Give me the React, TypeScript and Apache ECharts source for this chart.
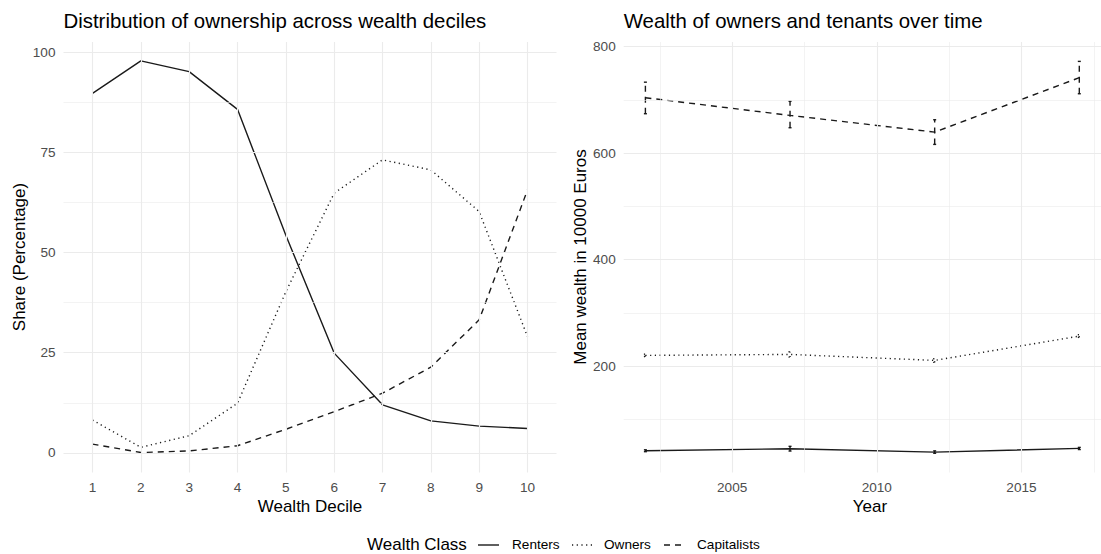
import React, { useEffect, useRef } from "react";
import * as echarts from "echarts";

// ---------- data ----------
const deciles = [1, 2, 3, 4, 5, 6, 7, 8, 9, 10];
const rentersShare = [89.7, 97.8, 95.1, 85.7, 54.3, 24.9, 12.0, 8.0, 6.7, 6.1];
const ownersShare = [8.2, 1.4, 4.3, 12.4, 40.2, 64.8, 73.1, 70.6, 60.2, 29.0];
const capitalistsShare = [2.2, 0.1, 0.5, 1.8, 5.9, 10.3, 14.9, 21.4, 33.2, 65.6];

const years = [2002, 2007, 2012, 2017];
const rentersWealth = [41.3, 45.0, 38.7, 45.6];
const rentersLow = [39.5, 40.7, 36.5, 43.5];
const rentersHigh = [43.0, 49.5, 41.0, 47.5];
const ownersWealth = [220.2, 222.0, 210.8, 256.4];
const ownersLow = [218.0, 217.0, 207.0, 254.0];
const ownersHigh = [222.5, 227.0, 214.0, 259.0];
const capitalistsWealth = [703.8, 670.6, 639.3, 741.4];
const capitalistsLow = [673.8, 647.5, 616.2, 711.3];
const capitalistsHigh = [733.0, 697.0, 662.5, 772.0];

const leftXTicks = deciles;
const leftYTicks = [0, 25, 50, 75, 100];
const leftYMinor = [12.5, 37.5, 62.5, 87.5];
const rightXTicks = [2005, 2010, 2015];
const rightXMinor = [2002.5, 2007.5, 2012.5, 2017.5];
const rightYTicks = [200, 400, 600, 800];
const rightYMinor = [100, 300, 500, 700];

const seriesNames = ["Renters", "Owners", "Capitalists"];

// ---------- styles ----------
const FONT = "'Liberation Sans', Arial, Helvetica, sans-serif";
const GRID_COLOR = "#EBEBEB";
const LINE_COLOR = "#1a1a1a";
const LW = 1.4;
const DOT = [1.2, 3.5];
const DASH = [6, 5];
const dashes: any[] = ["solid", DOT, DASH];

export default function App() {
  const ref = useRef<HTMLDivElement>(null);

  useEffect(() => {
    if (!ref.current) return;
    const chart = echarts.init(ref.current, undefined, { renderer: "svg" });

    const gridTop = 42;
    const gridH = 430.5;

    const gridSeries = (idx: number, xs: number[], ys: number[], xsMinor: number[], ysMinor: number[], anchor: number[]) => ({
      type: "line",
      xAxisIndex: idx,
      yAxisIndex: idx,
      data: [anchor],
      symbol: "none",
      lineStyle: { opacity: 0 },
      silent: true,
      z: 1,
      markLine: {
        silent: true,
        symbol: ["none", "none"],
        label: { show: false },
        animation: false,
        data: [
          ...xsMinor.map((v) => ({ xAxis: v, lineStyle: { color: GRID_COLOR, width: 0.6, type: "solid" } })),
          ...ysMinor.map((v) => ({ yAxis: v, lineStyle: { color: GRID_COLOR, width: 0.6, type: "solid" } })),
          ...xs.map((v) => ({ xAxis: v, lineStyle: { color: GRID_COLOR, width: 1.1, type: "solid" } })),
          ...ys.map((v) => ({ yAxis: v, lineStyle: { color: GRID_COLOR, width: 1.1, type: "solid" } })),
        ],
      },
    });

    const lineSeries = (idx: number, name: string, xs: number[], ys: number[], type: any) => ({
      type: "line",
      name,
      xAxisIndex: idx,
      yAxisIndex: idx,
      data: xs.map((x, i) => [x, ys[i]]),
      symbol: "none",
      z: 3,
      lineStyle: { color: LINE_COLOR, width: LW, type, cap: "butt" },
    });

    const errSeries = (name: string, lo: number[], hi: number[], type: any) => ({
      type: "custom",
      name: name + " error",
      xAxisIndex: 1,
      yAxisIndex: 1,
      z: 3,
      data: years.map((y, i) => [y, lo[i], hi[i]]),
      renderItem: (params: any, api: any) => {
        const x = api.value(0);
        const p1 = api.coord([x, api.value(1)]);
        const p2 = api.coord([x, api.value(2)]);
        const dash = type === "solid" ? null : type;
        const st = { stroke: LINE_COLOR, lineWidth: LW, lineDash: dash, fill: null };
        return {
          type: "group",
          children: [
            { type: "line", shape: { x1: p1[0], y1: p1[1], x2: p2[0], y2: p2[1] }, style: st },
            { type: "line", shape: { x1: p1[0] - 1.5, y1: p1[1], x2: p1[0] + 1.5, y2: p1[1] }, style: st },
            { type: "line", shape: { x1: p2[0] - 1.5, y1: p2[1], x2: p2[0] + 1.5, y2: p2[1] }, style: st },
          ],
        };
      },
    });

    const axisLabelStyle = { color: "#4D4D4D", fontSize: 13.6, fontFamily: FONT, formatter: (v: number) => String(v) };

    const legendY = 545;
    const legendItems: any[] = [
      { type: "text", left: 367, top: legendY - 9, style: { text: "Wealth Class", fontSize: 17, fontFamily: FONT, fill: "#000" } },
    ];
    const keyX = [478, 572, 664];
    const keyW = [21, 21, 18];
    const textX = [512, 604, 697];
    seriesNames.forEach((n, i) => {
      legendItems.push({
        type: "line",
        shape: { x1: keyX[i], y1: legendY, x2: keyX[i] + keyW[i], y2: legendY },
        style: { stroke: LINE_COLOR, lineWidth: LW, lineDash: i === 0 ? null : dashes[i] },
      });
      legendItems.push({
        type: "text",
        left: textX[i],
        top: legendY - 8,
        style: { text: n, fontSize: 13.6, fontFamily: FONT, fill: "#000" },
      });
    });

    chart.setOption({
      animation: false,
      backgroundColor: "#fff",
      grid: [
        { left: 63.5, top: gridTop, width: 493, height: gridH },
        { left: 623.7, top: gridTop, width: 492.7, height: gridH },
      ],
      xAxis: [
        {
          type: "value", gridIndex: 0, min: 0.4, max: 10.6,
          axisLine: { show: false }, axisTick: { show: false, customValues: leftXTicks }, splitLine: { show: false },
          axisLabel: { ...axisLabelStyle, margin: 8, customValues: leftXTicks },
        },
        {
          type: "value", gridIndex: 1, min: 2001.25, max: 2017.75,
          axisLine: { show: false }, axisTick: { show: false, customValues: rightXTicks }, splitLine: { show: false },
          axisLabel: { ...axisLabelStyle, margin: 8, customValues: rightXTicks },
        },
      ],
      yAxis: [
        {
          type: "value", gridIndex: 0, min: -4.88, max: 102.5,
          axisLine: { show: false }, axisTick: { show: false, customValues: leftYTicks }, splitLine: { show: false },
          axisLabel: { ...axisLabelStyle, margin: 8, customValues: leftYTicks },
        },
        {
          type: "value", gridIndex: 1, min: 0.4, max: 808.4,
          axisLine: { show: false }, axisTick: { show: false, customValues: rightYTicks }, splitLine: { show: false },
          axisLabel: { ...axisLabelStyle, margin: 8, customValues: rightYTicks },
        },
      ],
      series: [
        gridSeries(0, leftXTicks, leftYTicks, [], leftYMinor, [deciles[0], rentersShare[0]]),
        gridSeries(1, rightXTicks, rightYTicks, rightXMinor, rightYMinor, [years[0], rentersWealth[0]]),
        lineSeries(0, "Renters", deciles, rentersShare, "solid"),
        lineSeries(0, "Owners", deciles, ownersShare, DOT),
        lineSeries(0, "Capitalists", deciles, capitalistsShare, DASH),
        lineSeries(1, "Renters", years, rentersWealth, "solid"),
        lineSeries(1, "Owners", years, ownersWealth, DOT),
        lineSeries(1, "Capitalists", years, capitalistsWealth, DASH),
        errSeries("Renters", rentersLow, rentersHigh, "solid"),
        errSeries("Owners", ownersLow, ownersHigh, DOT),
        errSeries("Capitalists", capitalistsLow, capitalistsHigh, DASH),
      ],
      graphic: [
        { type: "text", left: 63.5, top: 11, style: { text: "Distribution of ownership across wealth deciles", fontSize: 20.4, fontFamily: FONT, fill: "#000" } },
        { type: "text", left: 623.7, top: 11, style: { text: "Wealth of owners and tenants over time", fontSize: 20.4, fontFamily: FONT, fill: "#000" } },
        { type: "text", x: 310, y: 506, style: { text: "Wealth Decile", fontSize: 17, fontFamily: FONT, fill: "#000", align: "center", verticalAlign: "middle" } },
        { type: "text", x: 870, y: 506, style: { text: "Year", fontSize: 17, fontFamily: FONT, fill: "#000", align: "center", verticalAlign: "middle" } },
        { type: "text", x: 19.5, y: 257, rotation: Math.PI / 2, style: { text: "Share (Percentage)", fontSize: 17, fontFamily: FONT, fill: "#000", align: "center", verticalAlign: "middle" } },
        { type: "text", x: 580, y: 257, rotation: Math.PI / 2, style: { text: "Mean wealth in 10000 Euros", fontSize: 17, fontFamily: FONT, fill: "#000", align: "center", verticalAlign: "middle" } },
        ...legendItems,
      ],
    });

    return () => chart.dispose();
  }, []);

  return <div ref={ref} style={{ position: "fixed", left: 0, top: 0, width: 1101, height: 554 }} />;
}
